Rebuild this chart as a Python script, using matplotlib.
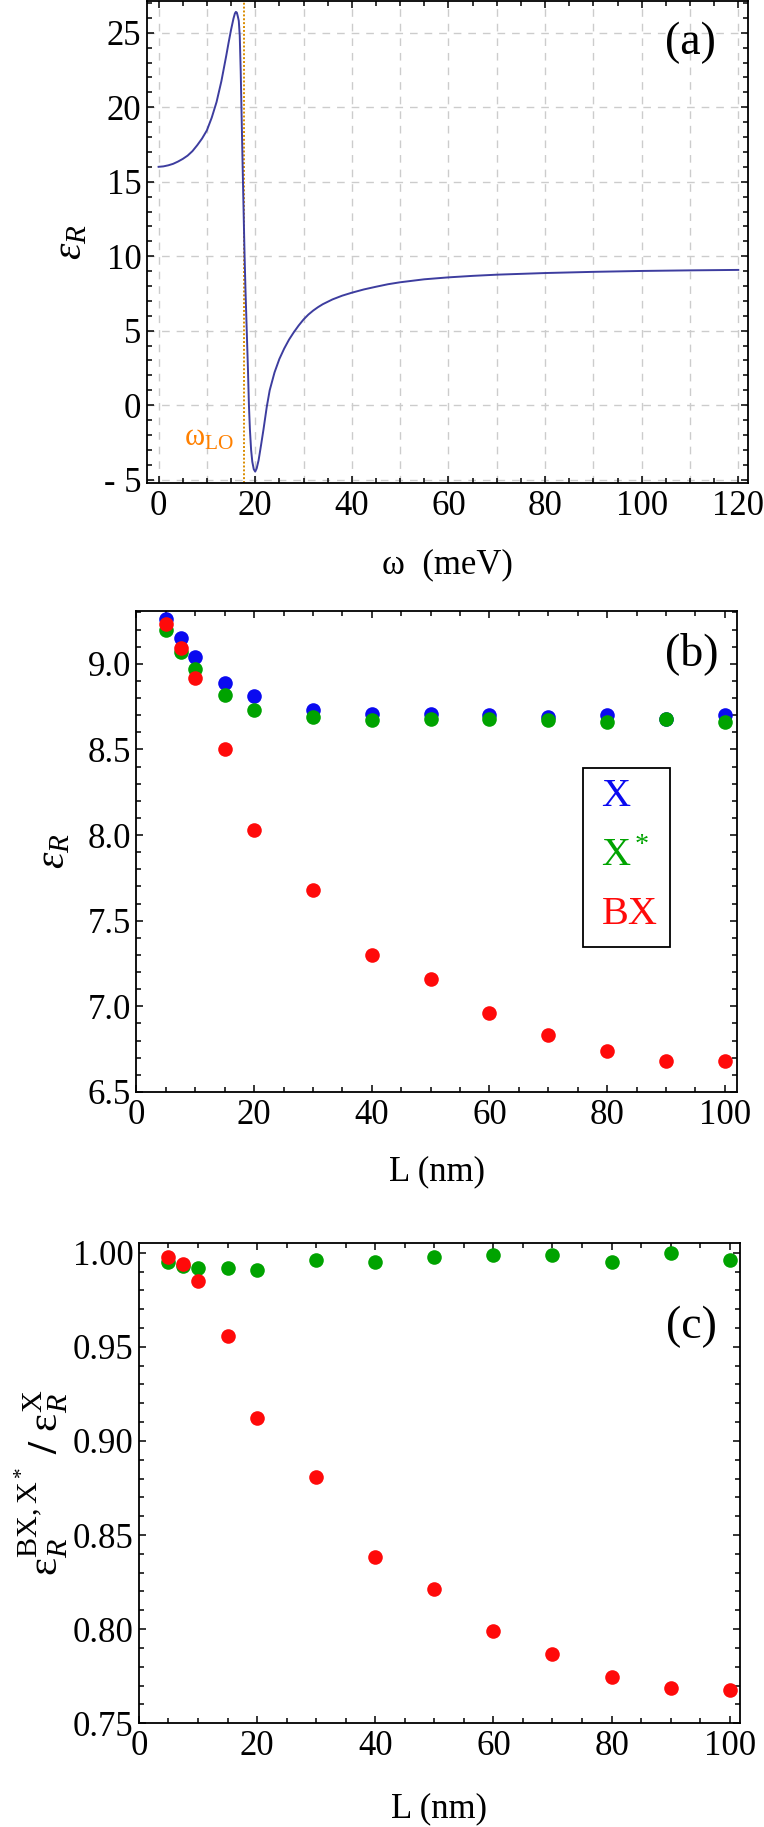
import matplotlib
matplotlib.use("Agg")
import matplotlib.pyplot as plt
from matplotlib.patches import Rectangle
from matplotlib.ticker import MultipleLocator, FuncFormatter

# ---- panel (a): real part of the dielectric function ----
omega_meV = [0, 1, 2, 3, 4, 5, 6, 7, 8, 9, 10, 11, 12, 13, 14, 14.5, 15, 15.5,
             15.8, 16.0, 16.2, 16.4, 16.6, 16.8, 17.0, 17.2, 17.4, 17.6, 17.8,
             18.0, 18.25, 18.5, 18.7, 18.9, 19.15, 19.4, 19.7, 20.0, 20.3, 20.7,
             21.2, 21.7, 22.4, 23, 24, 25, 26, 27, 28, 29, 30, 31, 32, 33, 34,
             36, 38, 40, 42.5, 45, 47.5, 50, 55, 60, 65, 70, 80, 90, 100, 110, 120]
eps_omega = [16.0, 16.03, 16.1, 16.2, 16.35, 16.53, 16.75, 17.05, 17.45, 17.9,
             18.45, 19.3, 20.35, 21.75, 23.45, 24.35, 25.2, 25.95, 26.3, 26.4,
             26.35, 26.1, 25.8, 24.8, 22.4, 19.2, 16.0, 13.0, 10.0, 7.6, 5.0, 2.4,
             0.0, -1.6, -3.0, -3.8, -4.3, -4.46, -4.25, -3.7, -2.7, -1.66, -0.1,
             1.0, 2.2, 3.1, 3.8, 4.4, 4.9, 5.35, 5.75, 6.08, 6.35, 6.58, 6.78, 7.1,
             7.35, 7.55, 7.77, 7.95, 8.12, 8.25, 8.45, 8.58, 8.68, 8.76, 8.87,
             8.95, 9.01, 9.05, 9.08]
omega_LO = 17.75

# ---- panels (b), (c): effective dielectric constant vs well width ----
L_nm = [5, 7.5, 10, 15, 20, 30, 40, 50, 60, 70, 80, 90, 100]
eps_X = [9.26, 9.15, 9.04, 8.89, 8.81, 8.73, 8.71, 8.71, 8.70, 8.69, 8.70, 8.68, 8.70]
eps_Xstar = [9.20, 9.07, 8.97, 8.82, 8.73, 8.69, 8.67, 8.68, 8.68, 8.67, 8.66, 8.68, 8.66]
eps_BX = [9.23, 9.09, 8.92, 8.50, 8.03, 7.68, 7.30, 7.16, 6.96, 6.83, 6.74, 6.68, 6.68]

ratio_Xstar = [0.9949, 0.9928, 0.9918, 0.9918, 0.9907, 0.9963, 0.9953, 0.9975,
               0.9986, 0.9986, 0.9953, 0.9996, 0.9963]
ratio_BX = [0.9975, 0.9938, 0.9852, 0.9558, 0.9121, 0.8809, 0.8383, 0.8214,
            0.7992, 0.7866, 0.7743, 0.7689, 0.7675]

legend_labels = ["X", "X$^*$", "BX"]

C_BLUE = "#0a0af0"
C_GREEN = "#00a300"
C_RED = "#ff0a0a"
C_CURVE = "#3d3d9f"

plt.rcParams["font.family"] = ["Liberation Serif", "DejaVu Serif"]
plt.rcParams["mathtext.fontset"] = "custom"
plt.rcParams["mathtext.rm"] = "Liberation Serif"
plt.rcParams["mathtext.it"] = "Liberation Serif:italic"
plt.rcParams["mathtext.bf"] = "Liberation Serif:bold"
plt.rcParams["axes.linewidth"] = 1.3

TICK_FS = 25
MS = 10.5


def style_axes(ax):
    ax.tick_params(which="both", direction="in", top=True, right=True,
                   width=1.1, labelsize=TICK_FS)
    ax.tick_params(which="major", length=5.3)
    ax.tick_params(which="minor", length=3.6)
    ax.tick_params(axis="x", pad=5)
    ax.tick_params(axis="y", pad=4)


fig = plt.figure(figsize=(7.64, 18.27), dpi=100)
ax_a = fig.add_axes([0.1924, 0.7355, 0.7866, 0.2637])
ax_b = fig.add_axes([0.1785, 0.4023, 0.7865, 0.2634])
ax_c = fig.add_axes([0.1818, 0.0568, 0.7865, 0.2628])

# (a)
for gx in range(0, 121, 10):
    ax_a.axvline(gx, color="#cccccc", lw=1.0, dashes=(5.5, 5), zorder=0)
for gy in range(-5, 26, 5):
    ax_a.axhline(gy, color="#cccccc", lw=1.0, dashes=(5.5, 5), zorder=0)
ax_a.axvline(omega_LO, color="#d98c00", lw=1.4, dashes=(1, 1), zorder=2)
ax_a.plot(omega_meV, eps_omega, color=C_CURVE, lw=1.4, zorder=3)
ax_a.text(15.6, -2.2, r"$\mathrm{\omega_{LO}}$", color="#ff8000",
          fontsize=22, ha="right", va="center")
ax_a.set_xlim(-2.4, 122)
ax_a.set_ylim(-5.24, 27.1)
ax_a.xaxis.set_major_locator(MultipleLocator(20))
ax_a.xaxis.set_minor_locator(MultipleLocator(5))
ax_a.yaxis.set_major_locator(MultipleLocator(5))
ax_a.yaxis.set_minor_locator(MultipleLocator(1))
ax_a.yaxis.set_major_formatter(
    FuncFormatter(lambda v, p: f"- {abs(int(round(v)))}" if v < 0 else f"{int(round(v))}"))
style_axes(ax_a)
ax_a.set_xlabel("ω  (meV)", fontsize=TICK_FS, labelpad=18)
ax_a.set_ylabel(r"$\varepsilon_R$", fontsize=30, labelpad=10)
ax_a.text(0.905, 0.915, "(a)", transform=ax_a.transAxes, fontsize=33,
          ha="center", va="center")

# (b)
ax_b.plot(L_nm, eps_X, "o", color=C_BLUE, ms=MS, mec="none")
ax_b.plot(L_nm, eps_Xstar, "o", color=C_GREEN, ms=MS, mec="none")
ax_b.plot(L_nm, eps_BX, "o", color=C_RED, ms=MS, mec="none")
ax_b.set_xlim(0, 102.1)
ax_b.set_ylim(6.5, 9.31)
ax_b.xaxis.set_major_locator(MultipleLocator(20))
ax_b.xaxis.set_minor_locator(MultipleLocator(5))
ax_b.yaxis.set_major_locator(MultipleLocator(0.5))
ax_b.yaxis.set_minor_locator(MultipleLocator(0.1))
ax_b.yaxis.set_major_formatter(FuncFormatter(lambda v, p: f"{v:.1f}"))
style_axes(ax_b)
ax_b.set_xlabel("L (nm)", fontsize=TICK_FS, labelpad=17)
ax_b.set_ylabel(r"$\varepsilon_R$", fontsize=30, labelpad=10)
ax_b.text(0.925, 0.912, "(b)", transform=ax_b.transAxes, fontsize=33,
          ha="center", va="center")
ax_b.add_patch(Rectangle((0.744, 0.301), 0.144, 0.372, transform=ax_b.transAxes,
                         fill=False, ec="black", lw=1.3))
for lab, col, yy in zip(legend_labels, [C_BLUE, C_GREEN, C_RED], [0.614, 0.489, 0.368]):
    ax_b.text(0.774, yy, lab, color=col, fontsize=29, transform=ax_b.transAxes,
              ha="left", va="center")

# (c)
ax_c.plot(L_nm, ratio_Xstar, "o", color=C_GREEN, ms=MS, mec="none")
ax_c.plot(L_nm, ratio_BX, "o", color=C_RED, ms=MS, mec="none")
ax_c.set_xlim(0, 101.7)
ax_c.set_ylim(0.75, 1.0051)
ax_c.xaxis.set_major_locator(MultipleLocator(20))
ax_c.xaxis.set_minor_locator(MultipleLocator(5))
ax_c.yaxis.set_major_locator(MultipleLocator(0.05))
ax_c.yaxis.set_minor_locator(MultipleLocator(0.01))
ax_c.yaxis.set_major_formatter(FuncFormatter(lambda v, p: f"{v:.2f}"))
style_axes(ax_c)
ax_c.set_xlabel("L (nm)", fontsize=TICK_FS, labelpad=21)
ax_c.set_ylabel(r"$\mathrm{\varepsilon}_R^{\mathrm{BX,X^*}}\ \mathbf{/}\ \mathrm{\varepsilon}_R^{\mathrm{X}}$",
                fontsize=31, labelpad=2)
ax_c.text(0.919, 0.826, "(c)", transform=ax_c.transAxes, fontsize=33,
          ha="center", va="center")

fig.savefig("out.png", dpi=100)
